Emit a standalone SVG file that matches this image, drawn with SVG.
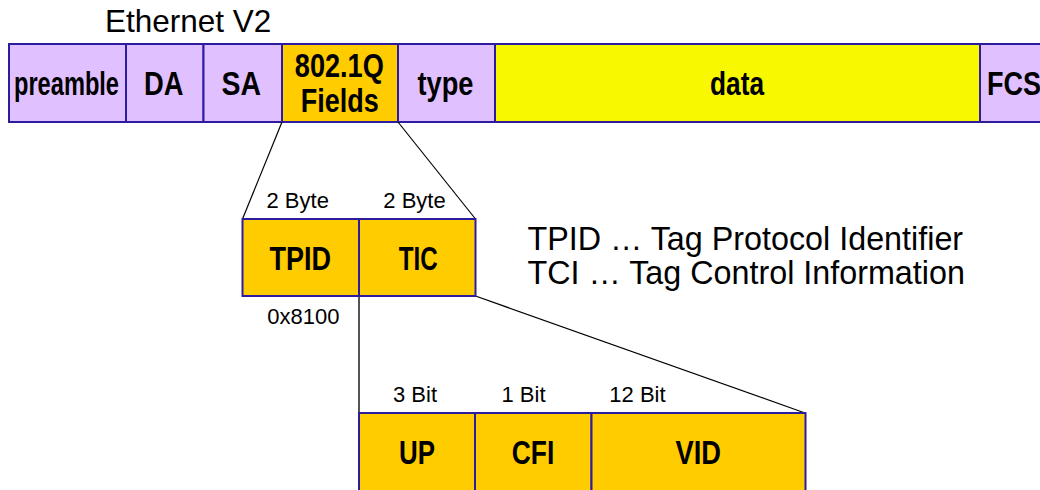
<svg xmlns="http://www.w3.org/2000/svg" width="1040" height="490" viewBox="0 0 1040 490">
<style>
.f{stroke:#2E1C9E;stroke-width:2}
.lav{fill:#E0C0FF}
.org{fill:#FFCC00}
.yel{fill:#F8F800}
.b{font-family:"Liberation Sans",Arial,sans-serif;font-weight:bold;font-size:32.5px;text-anchor:middle;fill:#000}
.r{font-family:"Liberation Sans",Arial,sans-serif;fill:#000}
.s{font-family:"Liberation Sans",Arial,sans-serif;font-size:22px;fill:#000;text-anchor:middle}
.c{stroke:#000;stroke-width:1.2;fill:none}
</style>
<rect width="1040" height="490" fill="#fff"/>
<text class="r" x="105" y="32" font-size="31.5">Ethernet V2</text>
<g id="preamble"><rect class="f lav" x="9" y="44" width="117" height="78"/><text class="b" transform="translate(66.5,95) scale(0.727,1)" x="0" y="0">preamble</text></g>
<g id="DA"><rect class="f lav" x="126" y="44" width="77.5" height="78"/><text class="b" x="163.8" y="95" textLength="39.5" lengthAdjust="spacingAndGlyphs">DA</text></g>
<g id="SA"><rect class="f lav" x="203.5" y="44" width="78.5" height="78"/><text class="b" x="241.3" y="95" textLength="39.5" lengthAdjust="spacingAndGlyphs">SA</text></g>
<g id="q8021"><rect class="f org" x="282" y="44" width="116" height="78"/><text class="b" x="339.3" y="76.5" textLength="89" lengthAdjust="spacingAndGlyphs">802.1Q</text><text class="b" x="339.7" y="111.5" textLength="78" lengthAdjust="spacingAndGlyphs">Fields</text></g>
<g id="type"><rect class="f lav" x="398" y="44" width="97" height="78"/><text class="b" x="445.5" y="95" textLength="56" lengthAdjust="spacingAndGlyphs">type</text></g>
<g id="data"><rect class="f yel" x="495" y="44" width="485" height="78"/><text class="b" x="737" y="95" textLength="54" lengthAdjust="spacingAndGlyphs">data</text></g>
<g id="FCS"><rect class="f lav" x="980" y="44" width="80" height="78"/><text class="b" x="987" y="95" style="text-anchor:start" textLength="54" lengthAdjust="spacingAndGlyphs">FCS</text></g>
<g id="connectors">
<line class="c" x1="282" y1="122" x2="242.5" y2="219"/>
<line class="c" x1="398" y1="122" x2="475.5" y2="219"/>
<line x1="359" y1="296" x2="359" y2="413" stroke="#555" stroke-width="2"/>
<line class="c" x1="475.5" y1="296" x2="805" y2="413"/>
</g>
<g id="TPID"><rect class="f org" x="242.5" y="219" width="116.5" height="77"/><text class="b" x="300.3" y="270" textLength="61.5" lengthAdjust="spacingAndGlyphs">TPID</text><text class="s" x="297.7" y="207.5">2 Byte</text><text class="s" x="303.3" y="324">0x8100</text></g>
<g id="TIC"><rect class="f org" x="359" y="219" width="116.5" height="77"/><text class="b" x="418.3" y="270" textLength="39" lengthAdjust="spacingAndGlyphs">TIC</text><text class="s" x="414.5" y="207.5">2 Byte</text></g>
<text class="r" x="527.5" y="250" font-size="32.3">TPID … Tag Protocol Identifier</text>
<text class="r" x="527.5" y="284" font-size="32.3">TCI … Tag Control Information</text>
<g id="UP"><rect class="f org" x="359" y="413" width="116" height="90"/><text class="b" x="417" y="464" textLength="36" lengthAdjust="spacingAndGlyphs">UP</text><text class="s" x="415" y="401.5">3 Bit</text></g>
<g id="CFI"><rect class="f org" x="475" y="413" width="116.5" height="90"/><text class="b" x="533" y="464" textLength="42.5" lengthAdjust="spacingAndGlyphs">CFI</text><text class="s" x="523.5" y="401.5">1 Bit</text></g>
<g id="VID"><rect class="f org" x="591.5" y="413" width="214" height="90"/><text class="b" x="698.3" y="464" textLength="45.5" lengthAdjust="spacingAndGlyphs">VID</text><text class="s" x="637.5" y="401.5">12 Bit</text></g>
</svg>
